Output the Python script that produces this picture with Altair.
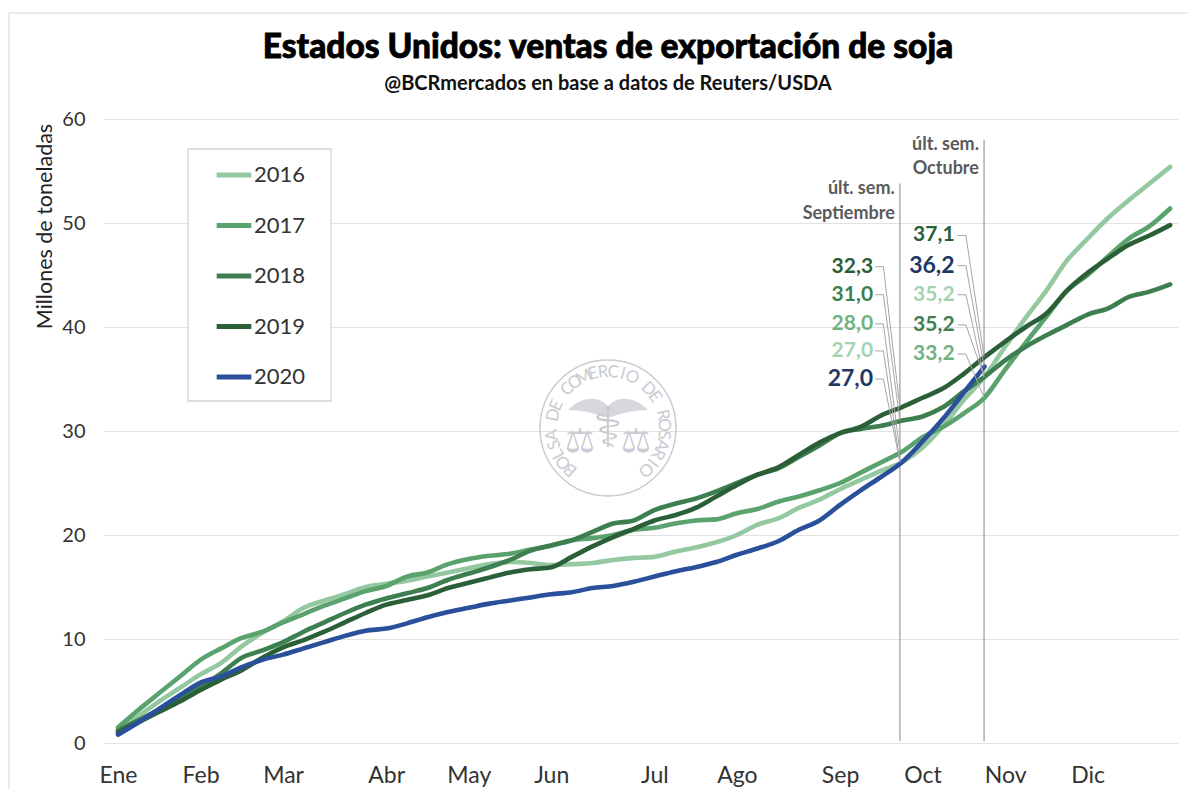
import math
import altair as alt
import pandas as pd

TITLE = "Estados Unidos: ventas de exportación de soja"
SUBTITLE = "@BCRmercados en base a datos de Reuters/USDA"
YEARS = ["2016", "2017", "2018", "2019", "2020"]
COLORS = ["#93c8a0", "#5aa26e", "#3d7f50", "#2a5f38", "#2b509b"]
MONTHS = ["Ene", "Feb", "Mar", "Abr", "May", "Jun", "Jul", "Ago", "Sep", "Oct", "Nov", "Dic"]
MONTH_WEEKS = [0, 4, 8, 13, 17, 21, 26, 30, 35, 39, 43, 47]

s2016 = [1.2, 2.6, 4.0, 5.3, 6.6, 7.7, 9.3, 10.6, 11.7, 13.0, 13.7, 14.3, 15.0, 15.3, 15.6, 16.0, 16.4, 16.8, 17.2, 17.4,
         17.3, 17.1, 17.2, 17.3, 17.6, 17.8, 17.9, 18.4, 18.8, 19.3, 20.0, 21.0, 21.6, 22.6, 23.4, 24.4, 25.3, 26.2, 27.0,
         28.4, 30.5, 33.0, 35.2, 38.1, 40.9, 43.5, 46.4, 48.5, 50.5, 52.2, 53.8, 55.4]
s2017 = [1.5, 3.2, 4.8, 6.4, 8.0, 9.1, 10.1, 10.7, 11.6, 12.4, 13.2, 13.9, 14.6, 15.1, 16.0, 16.4, 17.2, 17.7, 18.0, 18.2,
         18.6, 19.0, 19.5, 19.7, 20.0, 20.5, 20.7, 21.1, 21.4, 21.5, 22.1, 22.5, 23.2, 23.7, 24.3, 25.0, 26.0, 27.0, 28.0,
         29.4, 30.4, 31.7, 33.2, 35.9, 38.5, 41.0, 43.5, 45.0, 46.8, 48.5, 49.7, 51.4]
s2018 = [1.2, 2.2, 3.2, 4.2, 5.4, 6.7, 8.2, 8.9, 9.7, 10.7, 11.6, 12.5, 13.3, 13.9, 14.4, 14.9, 15.7, 16.3, 16.9, 17.6,
         18.5, 19.0, 19.5, 20.3, 21.1, 21.4, 22.4, 23.0, 23.5, 24.2, 25.0, 25.8, 26.4, 27.5, 28.6, 29.8, 30.2, 30.5, 31.0,
         31.4, 32.3, 33.8, 35.2, 36.8, 38.1, 39.2, 40.2, 41.2, 41.8, 42.9, 43.4, 44.1]
s2019 = [1.0, 2.0, 3.0, 4.0, 5.1, 6.1, 7.0, 8.2, 9.2, 9.9, 10.7, 11.6, 12.5, 13.3, 13.75, 14.2, 14.9, 15.4, 15.9, 16.4,
         16.7, 16.9, 17.9, 18.9, 19.8, 20.6, 21.4, 21.9, 22.6, 23.7, 24.8, 25.8, 26.5, 27.7, 28.9, 29.8, 30.4, 31.5, 32.3,
         33.2, 34.1, 35.5, 37.1, 38.6, 40.0, 41.3, 43.5, 45.2, 46.6, 47.9, 48.8, 49.8]
s2020 = [0.8, 2.0, 3.3, 4.6, 5.8, 6.4, 7.3, 8.0, 8.5, 9.1, 9.7, 10.3, 10.8, 11.0, 11.5, 12.1, 12.6, 13.0, 13.4, 13.7,
         14.0, 14.3, 14.5, 14.9, 15.1, 15.5, 16.0, 16.5, 16.9, 17.4, 18.1, 18.7, 19.4, 20.5, 21.4, 22.9, 24.3, 25.6, 27.0,
         29.0, 31.2, 33.7, 36.2]
SERIES = [s2016, s2017, s2018, s2019, s2020]

SEP_WEEK = 37.9
OCT_WEEK = 41.98
SEP_LABELS = ["32,3", "31,0", "28,0", "27,0", "27,0"]
SEP_COLORS = ["#2a5f38", "#3d7f50", "#6fb283", "#a5d3b1", "#1f3864"]
SEP_Y = [45.8, 43.1, 40.3, 37.7, 35.0]
SEP_VALUES = [32.3, 31.0, 28.0, 27.0, 27.0]
OCT_LABELS = ["37,1", "36,2", "35,2", "35,2", "33,2"]
OCT_COLORS = ["#2a5f38", "#1f3864", "#a5d3b1", "#3d7f50", "#6fb283"]
OCT_Y = [48.8, 45.9, 43.1, 40.2, 37.4]
OCT_VALUES = [37.1, 36.2, 35.2, 35.2, 33.2]
SEP_NOTE = [("últ. sem.", 53.3), ("Septiembre", 50.9)]
OCT_NOTE = [("últ. sem.", 57.5), ("Octubre", 55.2)]
NAVY = "#1f3864"

rows = []
for year, vals in zip(YEARS, SERIES):
    for w, v in enumerate(vals):
        rows.append({"week": w, "value": v, "year": year})
df = pd.DataFrame(rows)

x_scale = alt.Scale(domain=[-0.679, 51.38], nice=False, zero=False)
y_scale = alt.Scale(domain=[0, 60], nice=False)
BODY = "Lato"
label_expr = "{" + ",".join(f"'{w}':'{m}'" for w, m in zip(MONTH_WEEKS, MONTHS)) + "}[datum.value]"

legend_box = alt.Chart(pd.DataFrame({"a": [0]})).mark_rect(fill="#ffffff", stroke="#d4d4d4", strokeWidth=1.3).encode(
    x=alt.value(84), x2=alt.value(227), y=alt.value(30), y2=alt.value(282))

lines = alt.Chart(df).mark_line(strokeWidth=4.6, strokeCap="round", strokeJoin="round", interpolate="monotone").encode(
    x=alt.X("week:Q", scale=x_scale, axis=alt.Axis(
        values=MONTH_WEEKS, labelExpr=label_expr, title=None, grid=False, domain=False, ticks=False,
        labelFontSize=23, labelFont=BODY, labelColor="#333333", labelPadding=21, labelOverlap=False, labelFlush=False)),
    y=alt.Y("value:Q", scale=y_scale, axis=alt.Axis(
        values=[0, 10, 20, 30, 40, 50, 60], title="Millones de toneladas", titleFont=BODY, titleFontSize=21.5,
        titleFontWeight="normal", titleColor="#222222", titleX=-48, titleY=107, grid=True, gridColor="#e2e2e2",
        domain=False, ticks=False, labelFontSize=20, labelFont=BODY, labelColor="#333333", labelPadding=19)),
    color=alt.Color("year:N", scale=alt.Scale(domain=YEARS, range=COLORS), legend=alt.Legend(
        orient="none", legendX=110, legendY=36, title=None, symbolType="stroke", symbolSize=1200, symbolStrokeWidth=5,
        labelFontSize=22, labelFont=BODY, labelColor="#333333", labelOffset=0, rowPadding=19.5, padding=0,
        symbolOpacity=1)),
)

v_df = pd.DataFrame({"week": [SEP_WEEK, OCT_WEEK], "top": [53.8, 58.0], "base": [0.2, 0.2]})
vrules = alt.Chart(v_df).mark_rule(color="#a0a0a0", strokeWidth=1.3).encode(
    x=alt.X("week:Q", scale=x_scale), y=alt.Y("top:Q", scale=y_scale), y2="base:Q")

lead_rows, lab_rows = [], []
for i, (t, c, y, v) in enumerate(zip(SEP_LABELS, SEP_COLORS, SEP_Y, SEP_VALUES)):
    lab_rows.append({"t": t, "c": c, "w": 36.6, "y": y, "fs": 23 if c == NAVY else 21})
    for j, (wx, vy) in enumerate([(36.7, y), (37.1, y), (SEP_WEEK, v)]):
        lead_rows.append({"id": f"s{i}", "o": j, "w": wx, "y": vy})
for i, (t, c, y, v) in enumerate(zip(OCT_LABELS, OCT_COLORS, OCT_Y, OCT_VALUES)):
    lab_rows.append({"t": t, "c": c, "w": 40.55, "y": y, "fs": 23 if c == NAVY else 21})
    for j, (wx, vy) in enumerate([(40.7, y), (41.1, y), (OCT_WEEK, v)]):
        lead_rows.append({"id": f"o{i}", "o": j, "w": wx, "y": vy})

leaders = alt.Chart(pd.DataFrame(lead_rows)).mark_line(color="#a6a6a6", strokeWidth=1).encode(
    x=alt.X("w:Q", scale=x_scale), y=alt.Y("y:Q", scale=y_scale), detail="id:N", order="o:Q")
labels = alt.Chart(pd.DataFrame(lab_rows)).mark_text(
    align="right", baseline="middle", font=BODY, fontWeight="bold").encode(
    x=alt.X("w:Q", scale=x_scale), y=alt.Y("y:Q", scale=y_scale), text="t:N",
    color=alt.Color("c:N", scale=None), size=alt.Size("fs:Q", scale=None, legend=None))

note_df = pd.DataFrame(
    [{"t": t, "y": y, "w": SEP_WEEK - 0.25} for t, y in SEP_NOTE] + [{"t": t, "y": y, "w": OCT_WEEK - 0.25} for t, y in OCT_NOTE])
notes = alt.Chart(note_df).mark_text(
    align="right", baseline="middle", font=BODY, fontSize=18, fontWeight="bold", color="#5a5a5a").encode(
    x=alt.X("w:Q", scale=x_scale), y=alt.Y("y:Q", scale=y_scale), text="t:N")

title = alt.Chart(pd.DataFrame({"t": [TITLE]})).mark_text(
    font="Lato", fontSize=33.5, fontWeight=900, color="#000000", stroke="#000000", strokeWidth=0.8,
    align="center", baseline="middle").encode(text="t:N", x=alt.value(504), y=alt.value(-71))
subtitle = alt.Chart(pd.DataFrame({"t": [SUBTITLE]})).mark_text(
    font="Lato", fontSize=20, fontWeight="bold", color="#111111",
    align="center", baseline="middle").encode(text="t:N", x=alt.value(504), y=alt.value(-35))

frame_top = alt.Chart(pd.DataFrame({"a": [0]})).mark_rule(color="#e4e4e4", strokeWidth=1.5).encode(
    x=alt.value(-95), x2=alt.value(1090), y=alt.value(-106))
frame_left = alt.Chart(pd.DataFrame({"a": [0]})).mark_rule(color="#e4e4e4", strokeWidth=1.5).encode(
    x=alt.value(-95), y=alt.value(-106), y2=alt.value(670))

SEAL = "BOLSA DE COMERCIO DE ROSARIO"
SEAL_COLOR = "#c9ccd2"
CX, CY = 504, 309
seal_chars = []
n = len(SEAL)
for i, ch in enumerate(SEAL):
    a = -138 + 276 * i / (n - 1)
    r = 56
    seal_chars.append({"ch": ch, "px": CX + r * math.sin(math.radians(a)), "py": CY - r * math.cos(math.radians(a)), "ang": (a + 360) % 360})
seal_text = alt.Chart(pd.DataFrame(seal_chars)).mark_text(
    font=BODY, fontSize=17, color=SEAL_COLOR, align="center", baseline="middle").encode(
    x=alt.X("px:Q", scale=None), y=alt.Y("py:Q", scale=None), text="ch:N", angle=alt.Angle("ang:Q", scale=None))
seal_ring = alt.Chart(pd.DataFrame({"s": [(2 * 68) ** 2]})).mark_point(
    shape="circle", filled=False, color=SEAL_COLOR, strokeWidth=1.5, opacity=1).encode(
    x=alt.value(CX), y=alt.value(CY), size=alt.Size("s:Q", scale=None, legend=None))
WING = "M0,-0.1 C-0.3,-0.4 -0.7,-0.3 -1,0 C-0.6,0 -0.3,0.1 0,0.2 C0.3,0.1 0.6,0 1,0 C0.7,-0.3 0.3,-0.4 0,-0.1 Z"
seal_wing = alt.Chart(pd.DataFrame({"a": [0]})).mark_point(
    shape=WING, filled=True, color="#d6d8dd", size=6400, opacity=1).encode(x=alt.value(CX), y=alt.value(CY - 18))
seal_art = alt.Chart(pd.DataFrame({"g": ["⚕", "⚖", "⚖"], "px": [CX, CX - 28, CX + 28], "py": [CY + 2, CY + 14, CY + 14], "fs": [56, 34, 34]})).mark_text(
    font="DejaVu Sans", color=SEAL_COLOR, align="center", baseline="middle").encode(
    x=alt.X("px:Q", scale=None), y=alt.Y("py:Q", scale=None), text="g:N", size=alt.Size("fs:Q", scale=None, legend=None))

chart = alt.layer(
    frame_top, frame_left, seal_ring, seal_wing, seal_text, seal_art, legend_box, vrules, lines, leaders, labels, notes, title, subtitle
).resolve_scale(color="independent", size="independent").properties(
    width=1074, height=624,
    autosize=alt.AutoSizeParams(type="none"),
    padding={"left": 96, "top": 111, "right": 10, "bottom": 46},
).configure_view(stroke=None)

chart.save("out.html", embed_options={"renderer": "svg", "actions": False})
